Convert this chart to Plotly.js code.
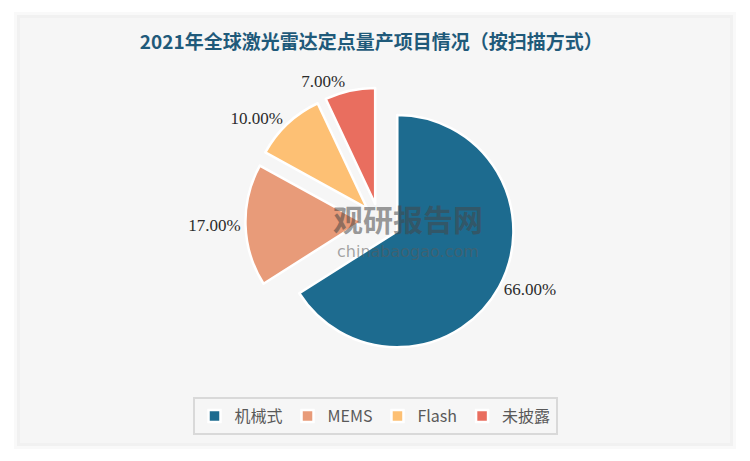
<!DOCTYPE html>
<html>
<head>
<meta charset="utf-8">
<script src="https://cdn.plot.ly/plotly-3.0.1.min.js"></script>
<style>
  html, body { margin: 0; padding: 0; background: #ffffff; }
  #chart { width: 750px; height: 461px; }
</style>
</head>
<body>
<div id="chart"></div>
<script>
// ---- data ----
var chartTitle = '2021年全球激光雷达定点量产项目情况（按扫描方式）';
var categories = ['机械式', 'MEMS', 'Flash', '未披露'];
var shares = [66, 17, 10, 7];
var sliceColors = ['#1d6b8f', '#e89b79', '#fdc074', '#e96e5f'];
var sliceExplode = [0.18, 0.15, 0.15, 0.15];

var W = 750, H = 461;
function px(x) { return x / W; }
function py(y) { return 1 - y / H; }

var trace = {
  type: 'pie',
  labels: categories,
  values: shares,
  sort: false,
  direction: 'clockwise',
  rotation: 0,
  pull: sliceExplode,
  marker: { colors: sliceColors, line: { color: '#ffffff', width: 2.5 } },
  texttemplate: '%{percent:.2%}',
  textposition: 'outside',
  textfont: { family: 'Liberation Serif, serif', size: 17, color: '#2b2b2b' },
  hoverinfo: 'label+percent',
  domain: { x: [0.3226, 0.688], y: [0.2234, 0.8178] },
  showlegend: true
};

var layout = {
  width: W, height: H,
  margin: { l: 0, r: 0, t: 0, b: 0 },
  paper_bgcolor: '#ffffff',
  plot_bgcolor: 'rgba(0,0,0,0)',
  title: {
    text: chartTitle,
    x: 0.495, xanchor: 'center',
    y: py(42), yanchor: 'middle',
    font: { family: 'Noto Sans CJK SC, sans-serif', size: 19, color: '#1f5a7a', weight: 600 }
  },
  showlegend: true,
  legend: {
    orientation: 'h',
    x: 0.5, xanchor: 'center',
    y: py(416), yanchor: 'middle',
    bgcolor: 'rgba(0,0,0,0)',
    bordercolor: '#d9d9d9', borderwidth: 2,
    font: { family: 'Noto Sans CJK SC, sans-serif', size: 16, color: '#595959' },
    itemwidth: 30,
    traceorder: 'normal'
  },
  shapes: [
    { type: 'rect', xref: 'paper', yref: 'paper', layer: 'below',
      x0: px(14), x1: px(736), y0: py(449), y1: py(12),
      fillcolor: 'rgba(0,0,0,0.025)', line: { width: 0 } },
    { type: 'rect', xref: 'paper', yref: 'paper', layer: 'below',
      x0: px(17), x1: px(733), y0: py(446), y1: py(15),
      fillcolor: 'rgba(0,0,0,0.03)', line: { width: 0 } },
    { type: 'rect', xref: 'paper', yref: 'paper', layer: 'below',
      x0: px(20), x1: px(730), y0: py(443), y1: py(18),
      fillcolor: '#f6f6f6', line: { width: 0 } }
  ],
  annotations: [
    { xref: 'paper', yref: 'paper', x: px(408), y: py(218), xanchor: 'center', yanchor: 'middle',
      text: '<b>观研报告网</b>', showarrow: false,
      font: { family: 'Noto Sans CJK SC, sans-serif', size: 30, color: 'rgba(70,70,70,0.55)' } },
    { xref: 'paper', yref: 'paper', x: px(408), y: py(252), xanchor: 'center', yanchor: 'middle',
      text: 'chinabaogao.com', showarrow: false,
      font: { family: 'DejaVu Sans, sans-serif', size: 16, color: 'rgba(90,90,90,0.55)' } }
  ]
};

Plotly.newPlot('chart', [trace], layout, { displayModeBar: false, staticPlot: true });
</script>
</body>
</html>
